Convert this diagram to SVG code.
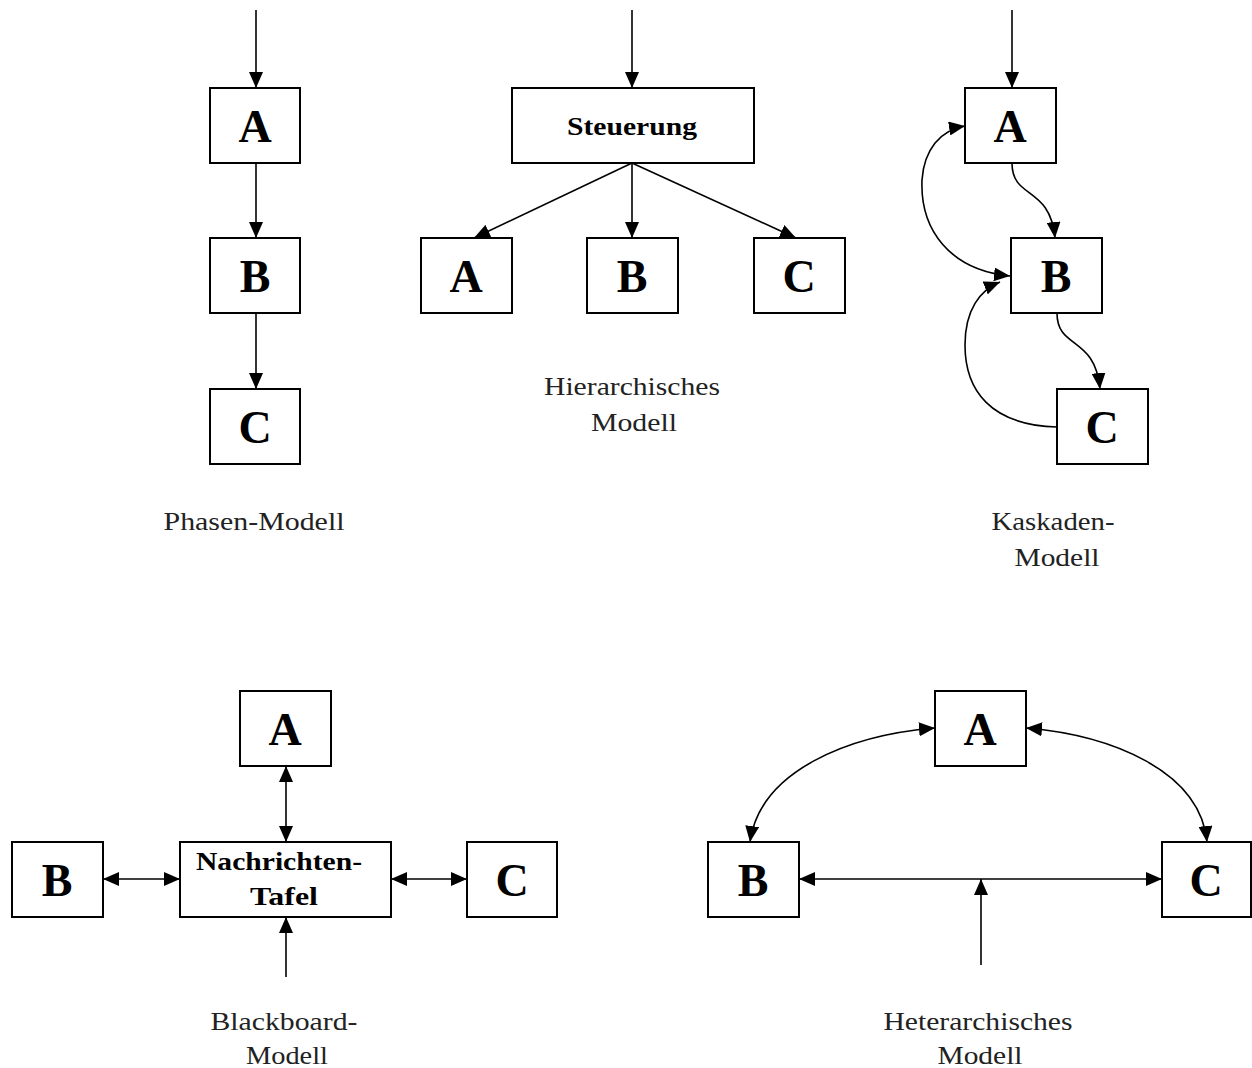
<svg xmlns="http://www.w3.org/2000/svg" width="1252" height="1068" viewBox="0 0 1252 1068">
<style>
.box{fill:#fff;stroke:#000;stroke-width:2}
text{font-family:'Liberation Serif','Times New Roman','DejaVu Serif',serif;text-anchor:middle}
.big{font-weight:bold;font-size:46px}
.mid{font-weight:bold;font-size:26px}
.lbl{font-size:26px;fill:#222}
.c{fill:none;stroke:#000;stroke-width:1.6}
</style>
<defs>
<marker id="ah" viewBox="0 0 16 14" refX="16" refY="7" markerWidth="16" markerHeight="14" markerUnits="userSpaceOnUse" orient="auto-start-reverse">
<path d="M0,0 L16,7 L0,14 Z" fill="#000"/>
</marker>
</defs>
<g id="connectors">
<path class="c" d="M256,10 V88" marker-end="url(#ah)"/>
<path class="c" d="M256,163 V238" marker-end="url(#ah)"/>
<path class="c" d="M256,313 V389" marker-end="url(#ah)"/>
<path class="c" d="M632,10 V88" marker-end="url(#ah)"/>
<path class="c" d="M632,163 L474,238" marker-end="url(#ah)"/>
<path class="c" d="M632,163 V238" marker-end="url(#ah)"/>
<path class="c" d="M632,163 L796,238" marker-end="url(#ah)"/>
<path class="c" d="M1012,10 V88" marker-end="url(#ah)"/>
<path class="c" d="M1012,163 C1012,200 1050,185 1055,238" marker-end="url(#ah)"/>
<path class="c" d="M1057,313 C1057,350 1095,335 1100,389" marker-end="url(#ah)"/>
<path class="c" d="M1010,276 C950,270 920,230 922,180 C924,150 940,130 965,126" marker-start="url(#ah)" marker-end="url(#ah)"/>
<path class="c" d="M1057,427 C990,425 965,390 965,345 C965,310 980,290 1000,282" marker-end="url(#ah)"/>
<path class="c" d="M286,766 V842" marker-start="url(#ah)" marker-end="url(#ah)"/>
<path class="c" d="M103,879 H180" marker-start="url(#ah)" marker-end="url(#ah)"/>
<path class="c" d="M391,879 H467" marker-start="url(#ah)" marker-end="url(#ah)"/>
<path class="c" d="M286,977 V917" marker-end="url(#ah)"/>
<path class="c" d="M750,842 C760,770 850,735 935,728" marker-start="url(#ah)" marker-end="url(#ah)"/>
<path class="c" d="M1026,728 C1110,735 1200,770 1207,842" marker-start="url(#ah)" marker-end="url(#ah)"/>
<path class="c" d="M799,879 H1162" marker-start="url(#ah)" marker-end="url(#ah)"/>
<path class="c" d="M981,965 V879" marker-end="url(#ah)"/>
</g>
<g id="phasen-A"><rect class="box" x="210" y="88" width="90" height="75"/><text class="big" x="255" y="142">A</text></g>
<g id="phasen-B"><rect class="box" x="210" y="238" width="90" height="75"/><text class="big" x="255" y="292">B</text></g>
<g id="phasen-C"><rect class="box" x="210" y="389" width="90" height="75"/><text class="big" x="255" y="443">C</text></g>
<g id="hier-Steuerung"><rect class="box" x="512" y="88" width="242" height="75"/><text class="mid" x="632" y="135" textLength="130" lengthAdjust="spacingAndGlyphs">Steuerung</text></g>
<g id="hier-A"><rect class="box" x="421" y="238" width="91" height="75"/><text class="big" x="466" y="292">A</text></g>
<g id="hier-B"><rect class="box" x="587" y="238" width="91" height="75"/><text class="big" x="632" y="292">B</text></g>
<g id="hier-C"><rect class="box" x="754" y="238" width="91" height="75"/><text class="big" x="799" y="292">C</text></g>
<g id="kask-A"><rect class="box" x="965" y="88" width="91" height="75"/><text class="big" x="1010" y="142">A</text></g>
<g id="kask-B"><rect class="box" x="1011" y="238" width="91" height="75"/><text class="big" x="1056" y="292">B</text></g>
<g id="kask-C"><rect class="box" x="1057" y="389" width="91" height="75"/><text class="big" x="1102" y="443">C</text></g>
<g id="bb-A"><rect class="box" x="240" y="691" width="91" height="75"/><text class="big" x="285" y="745">A</text></g>
<g id="bb-Tafel"><rect class="box" x="180" y="842" width="211" height="75"/><text class="mid" x="279" y="870" textLength="166" lengthAdjust="spacingAndGlyphs">Nachrichten-</text><text class="mid" x="284" y="905" textLength="68" lengthAdjust="spacingAndGlyphs">Tafel</text></g>
<g id="bb-B"><rect class="box" x="12" y="842" width="91" height="75"/><text class="big" x="57" y="896">B</text></g>
<g id="bb-C"><rect class="box" x="467" y="842" width="90" height="75"/><text class="big" x="512" y="896">C</text></g>
<g id="het-A"><rect class="box" x="935" y="691" width="91" height="75"/><text class="big" x="980" y="745">A</text></g>
<g id="het-B"><rect class="box" x="708" y="842" width="91" height="75"/><text class="big" x="753" y="896">B</text></g>
<g id="het-C"><rect class="box" x="1162" y="842" width="89" height="75"/><text class="big" x="1206" y="896">C</text></g>
<g id="labels">
<text class="lbl" x="254" y="530" textLength="181" lengthAdjust="spacingAndGlyphs">Phasen-Modell</text>
<text class="lbl" x="632" y="395" textLength="176" lengthAdjust="spacingAndGlyphs">Hierarchisches</text>
<text class="lbl" x="634" y="431" textLength="86" lengthAdjust="spacingAndGlyphs">Modell</text>
<text class="lbl" x="1053" y="530" textLength="123" lengthAdjust="spacingAndGlyphs">Kaskaden-</text>
<text class="lbl" x="1057" y="566" textLength="85" lengthAdjust="spacingAndGlyphs">Modell</text>
<text class="lbl" x="284" y="1030" textLength="147" lengthAdjust="spacingAndGlyphs">Blackboard-</text>
<text class="lbl" x="287" y="1064" textLength="82" lengthAdjust="spacingAndGlyphs">Modell</text>
<text class="lbl" x="978" y="1030" textLength="189" lengthAdjust="spacingAndGlyphs">Heterarchisches</text>
<text class="lbl" x="980" y="1064" textLength="85" lengthAdjust="spacingAndGlyphs">Modell</text>
</g>
</svg>
